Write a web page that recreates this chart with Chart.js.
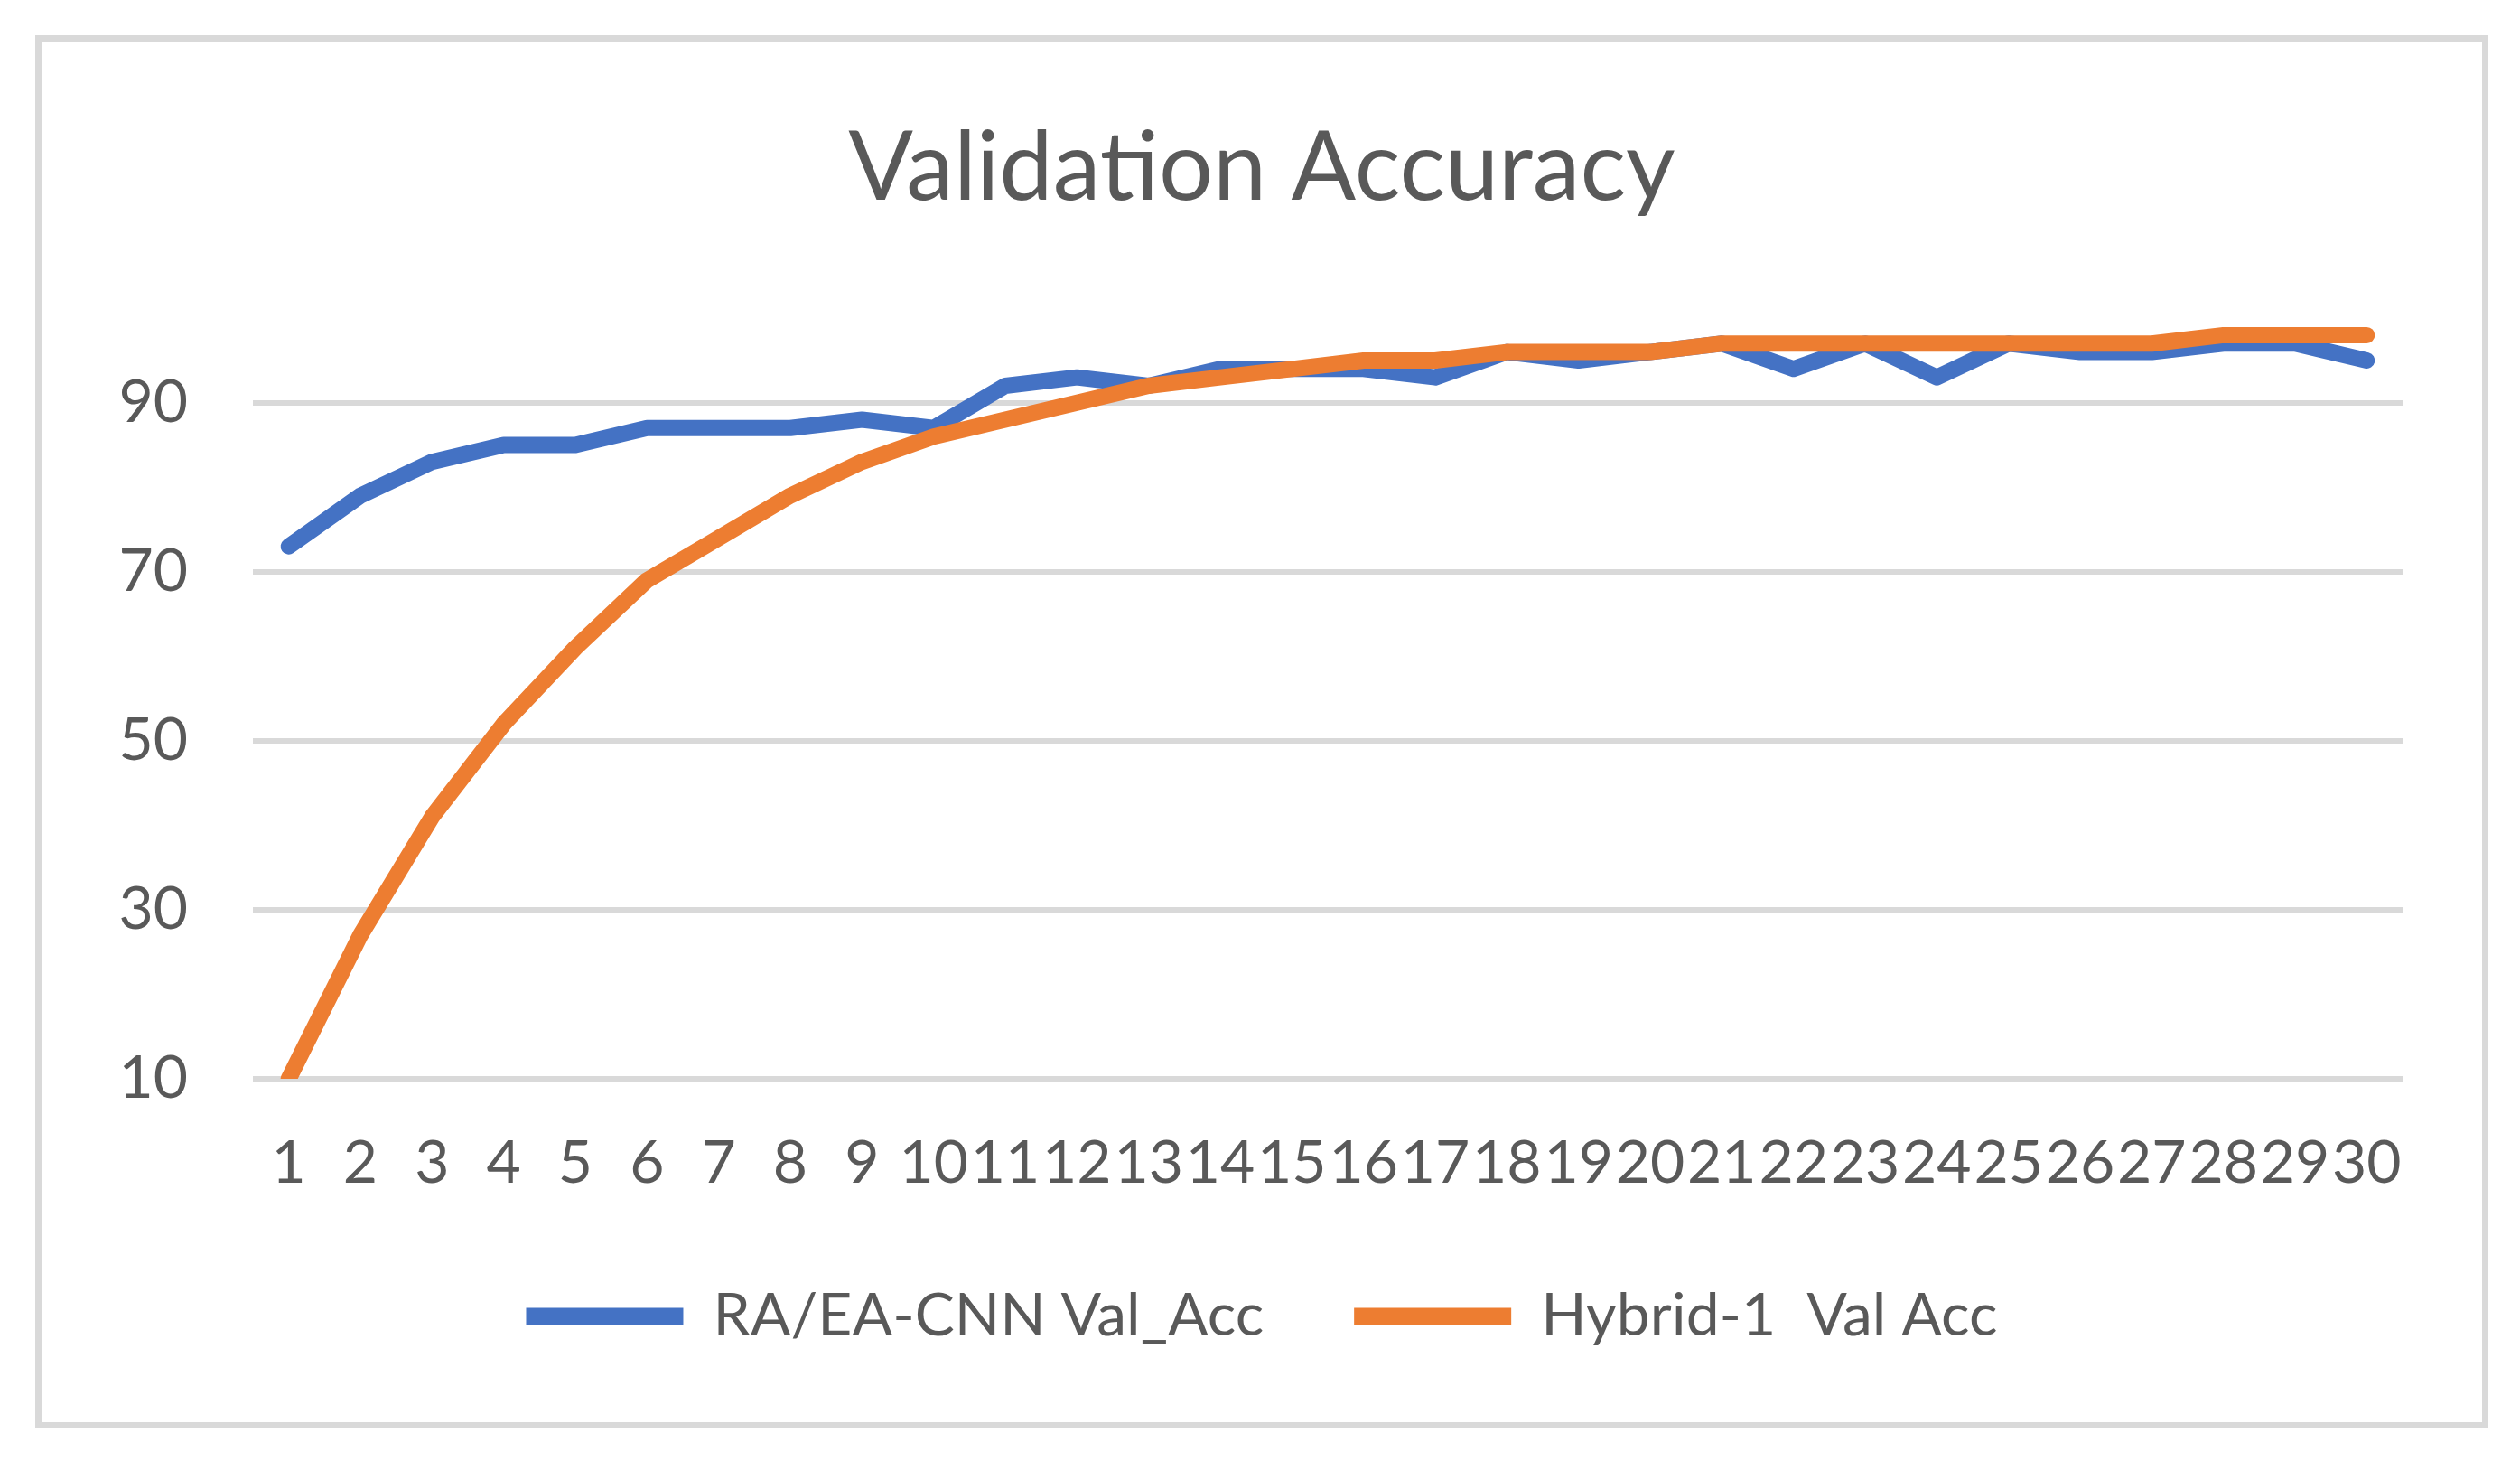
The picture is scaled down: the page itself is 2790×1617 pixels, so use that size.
<!DOCTYPE html>
<html>
<head>
<meta charset="utf-8">
<script src="https://cdn.jsdelivr.net/npm/chart.js@4.4.0/dist/chart.umd.min.js"></script>
<style>
  html, body { margin: 0; padding: 0; background: #fff; }
  #frame {
    position: absolute; left: 39px; top: 39px;
    width: 2716px; height: 1542px;
    border: 7px solid #d9d9d9; box-sizing: border-box;
  }
  #wrap { position: relative; width: 2702px; height: 1528px; }
</style>
</head>
<body>
<div id="frame"><div id="wrap"><canvas id="acc-chart"></canvas></div></div>
<script>
var epochs = [];
for (var i = 1; i <= 30; i++) epochs.push(String(i));

var raEaCnnAcc = [73, 79, 83, 85, 85, 87, 87, 87, 88, 87,
                  92, 93, 92, 94, 94, 94, 93, 96, 95, 96,
                  97, 94, 97, 93, 97, 96, 96, 97, 97, 95];
var hybridAcc = [10, 27, 41, 52, 61, 69, 74, 79, 83, 86,
                 88, 90, 92, 93, 94, 95, 95, 96, 96, 96,
                 97, 97, 97, 97, 97, 97, 97, 98, 98, 98];
var yTicks = [10, 30, 50, 70, 90];

var textColor = '#595959';
var fontFamily = 'Lato, "Open Sans", sans-serif';

var accChart = new Chart(document.getElementById('acc-chart'), {
    type: 'line',
    data: {
        labels: epochs,
        datasets: [{
            label: 'RA/EA-CNN Val_Acc',
            data: raEaCnnAcc,
            borderColor: '#4472C4',
            backgroundColor: '#4472C4',
            borderWidth: 18,
            pointRadius: 0,
            tension: 0,
            borderCapStyle: 'round',
            borderJoinStyle: 'round',
            order: 1
        }, {
            label: 'Hybrid-1  Val Acc',
            data: hybridAcc,
            borderColor: '#ED7D31',
            backgroundColor: '#ED7D31',
            borderWidth: 18,
            pointRadius: 0,
            tension: 0,
            borderCapStyle: 'round',
            borderJoinStyle: 'round',
            order: 0
        }]
    },
    options: {
        responsive: true,
        maintainAspectRatio: false,
        devicePixelRatio: 1,
        animation: false,
        layout: { padding: { left: 0, right: 0, top: 0, bottom: 74 } },
        plugins: {
            title: {
                display: true,
                text: 'Validation Accuracy',
                color: textColor,
                font: { family: fontFamily, size: 106, weight: 'normal' },
                padding: { top: 77, bottom: 102 }
            },
            legend: {
                position: 'bottom',
                labels: {
                    color: textColor,
                    font: { family: fontFamily, size: 66 },
                    boxWidth: 174,
                    boxHeight: 19,
                    padding: 100,
                    useBorderRadius: true,
                    borderRadius: 9,
                    generateLabels: function (chart) {
                        return chart.data.datasets.map(function (ds, i) {
                            return {
                                text: ds.label,
                                fillStyle: ds.borderColor,
                                strokeStyle: ds.borderColor,
                                lineWidth: 0,
                                fontColor: textColor,
                                hidden: false,
                                datasetIndex: i
                            };
                        });
                    }
                }
            },
            tooltip: { enabled: false }
        },
        scales: {
            x: {
                offset: true,
                grid: { display: false, drawTicks: false },
                border: { display: false },
                ticks: {
                    color: textColor,
                    font: { family: fontFamily, size: 66 },
                    autoSkip: false,
                    maxRotation: 0,
                    minRotation: 0,
                    padding: 54
                },
                afterFit: function (scale) { scale.height = 130; }
            },
            y: {
                min: 10,
                max: 100,
                grid: { color: '#d9d9d9', lineWidth: 6, drawTicks: false },
                border: { display: false },
                ticks: {
                    color: textColor,
                    font: { family: fontFamily, size: 66 },
                    padding: 72
                },
                afterBuildTicks: function (scale) {
                    scale.ticks = yTicks.map(function (v) { return { value: v }; });
                },
                afterFit: function (scale) { scale.width = 234; }
            },
            // empty right-hand spacer so the title and legend stay centred on the frame
            yRight: {
                position: 'right',
                min: 10,
                max: 100,
                grid: { display: false, drawTicks: false },
                border: { display: false },
                ticks: { display: false },
                afterFit: function (scale) { scale.width = 88; }
            }
        }
    }
});
</script>
</body>
</html>
